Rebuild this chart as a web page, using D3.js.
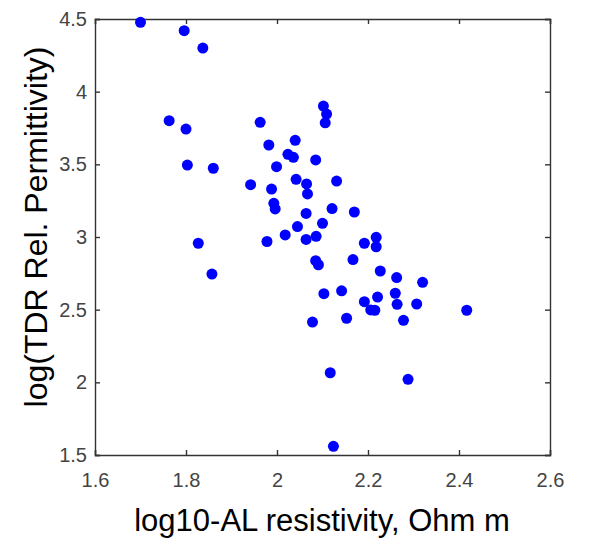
<!DOCTYPE html>
<html>
<head>
<meta charset="utf-8">
<script src="https://cdn.jsdelivr.net/npm/d3@7"></script>
<style>
  body { margin: 0; background: #fff; }
</style>
</head>
<body>
<div class="scatter-plot"></div>
<script>
// log10 apparent resistivity vs log TDR permittivity
const resistivity = [
    1.700, 1.796, 1.837, 1.763, 1.800, 1.803, 1.860, 1.827, 1.857, 1.963,
    1.982, 1.942, 1.999, 1.988, 1.993, 1.996, 1.978, 2.018, 2.102, 2.109,
    2.106, 2.040, 2.024, 2.036, 2.085, 2.042, 2.065, 2.131, 2.067, 2.064,
    2.121, 2.170, 2.100, 2.045, 2.064, 2.086, 2.192, 2.218, 2.218, 2.085,
    2.091, 2.167, 2.227, 2.263, 2.320, 2.103, 2.142, 2.221, 2.260, 2.264,
    2.192, 2.206, 2.215, 2.307, 2.417, 2.078, 2.153, 2.278, 2.117, 2.288,
    2.124
];
const permittivity = [
    4.477, 4.420, 4.300, 3.800, 3.743, 3.495, 3.473, 2.957, 2.745, 3.789,
    3.633, 3.360, 3.484, 3.330, 3.232, 3.193, 2.969, 3.014, 3.901, 3.846,
    3.786, 3.665, 3.569, 3.548, 3.530, 3.397, 3.365, 3.385, 3.296, 3.162,
    3.196, 3.172, 3.094, 3.072, 2.983, 3.005, 2.957, 2.998, 2.933, 2.837,
    2.809, 2.845, 2.766, 2.721, 2.688, 2.610, 2.630, 2.587, 2.613, 2.537,
    2.555, 2.498, 2.496, 2.539, 2.496, 2.415, 2.441, 2.427, 2.066, 2.021,
    1.560
];
const xTicks = [1.6, 1.8, 2.0, 2.2, 2.4, 2.6];
const yTicks = [1.5, 2.0, 2.5, 3.0, 3.5, 4.0, 4.5];

const data = resistivity.map((r, i) => ({res: r, perm: permittivity[i]}));

const margin = ({top: 19, right: 47, bottom: 84, left: 95});
const width = 597 - margin.left - margin.right;
const height = 539 - margin.top - margin.bottom;

const svg = d3.select('.scatter-plot')
    .append('svg')
    .attr('width', 597)
    .attr('height', 539);

const g = svg.append('g')
    .attr('transform', `translate(${margin.left},${margin.top})`);

const xScale = d3.scaleLinear()
    .domain([1.6, 2.6])
    .range([0, width]);

const yScale = d3.scaleLinear()
    .domain([1.5, 4.5])
    .range([height, 0]);

const tickLen = 5;
const fmt = d => d3.format('.1f')(d).replace(/\.0$/, '');

// inward ticks on all four sides, like a matlab box
const xAxis = d3.axisBottom(xScale).tickValues(xTicks).tickSize(-tickLen).tickPadding(18).tickFormat(fmt);
const yAxis = d3.axisLeft(yScale).tickValues(yTicks).tickSize(-tickLen).tickPadding(8).tickFormat(fmt);
const xTop = d3.axisTop(xScale).tickValues(xTicks).tickSize(-tickLen).tickFormat('');
const yRight = d3.axisRight(yScale).tickValues(yTicks).tickSize(-tickLen).tickFormat('');

function styleAxis(sel) {
    sel.selectAll('path.domain').attr('stroke', '#333').attr('stroke-width', 1.4);
    sel.selectAll('.tick line').attr('stroke', '#333').attr('stroke-width', 1.4);
    sel.selectAll('.tick text')
        .attr('fill', '#444')
        .style('font-family', '"Liberation Sans", Arial, sans-serif')
        .style('font-size', '20px');
}

g.append('g')
    .attr('class', 'axis x-axis')
    .attr('transform', `translate(0,${height})`)
    .call(xAxis)
    .call(styleAxis);

g.append('g')
    .attr('class', 'axis y-axis')
    .call(yAxis)
    .call(styleAxis);

g.append('g')
    .attr('class', 'axis x-top')
    .call(xTop)
    .call(styleAxis);

g.append('g')
    .attr('class', 'axis y-right')
    .attr('transform', `translate(${width},0)`)
    .call(yRight)
    .call(styleAxis);

g.selectAll('circle')
    .data(data)
    .enter()
    .append('circle')
    .attr('cx', d => xScale(d.res))
    .attr('cy', d => yScale(d.perm))
    .attr('r', 5.5)
    .attr('fill', '#0000ff');

svg.append('text')
    .attr('x', 322)
    .attr('y', 531)
    .attr('text-anchor', 'middle')
    .style('font-family', '"Liberation Sans", Arial, sans-serif')
    .style('font-size', '31px')
    .attr('fill', '#000')
    .text('log10-AL resistivity, Ohm m');

svg.append('text')
    .attr('transform', 'translate(47,227) rotate(-90)')
    .attr('text-anchor', 'middle')
    .style('font-family', '"Liberation Sans", Arial, sans-serif')
    .style('font-size', '32px')
    .attr('fill', '#000')
    .text('log(TDR Rel. Permittivity)');
</script>
</body>
</html>
